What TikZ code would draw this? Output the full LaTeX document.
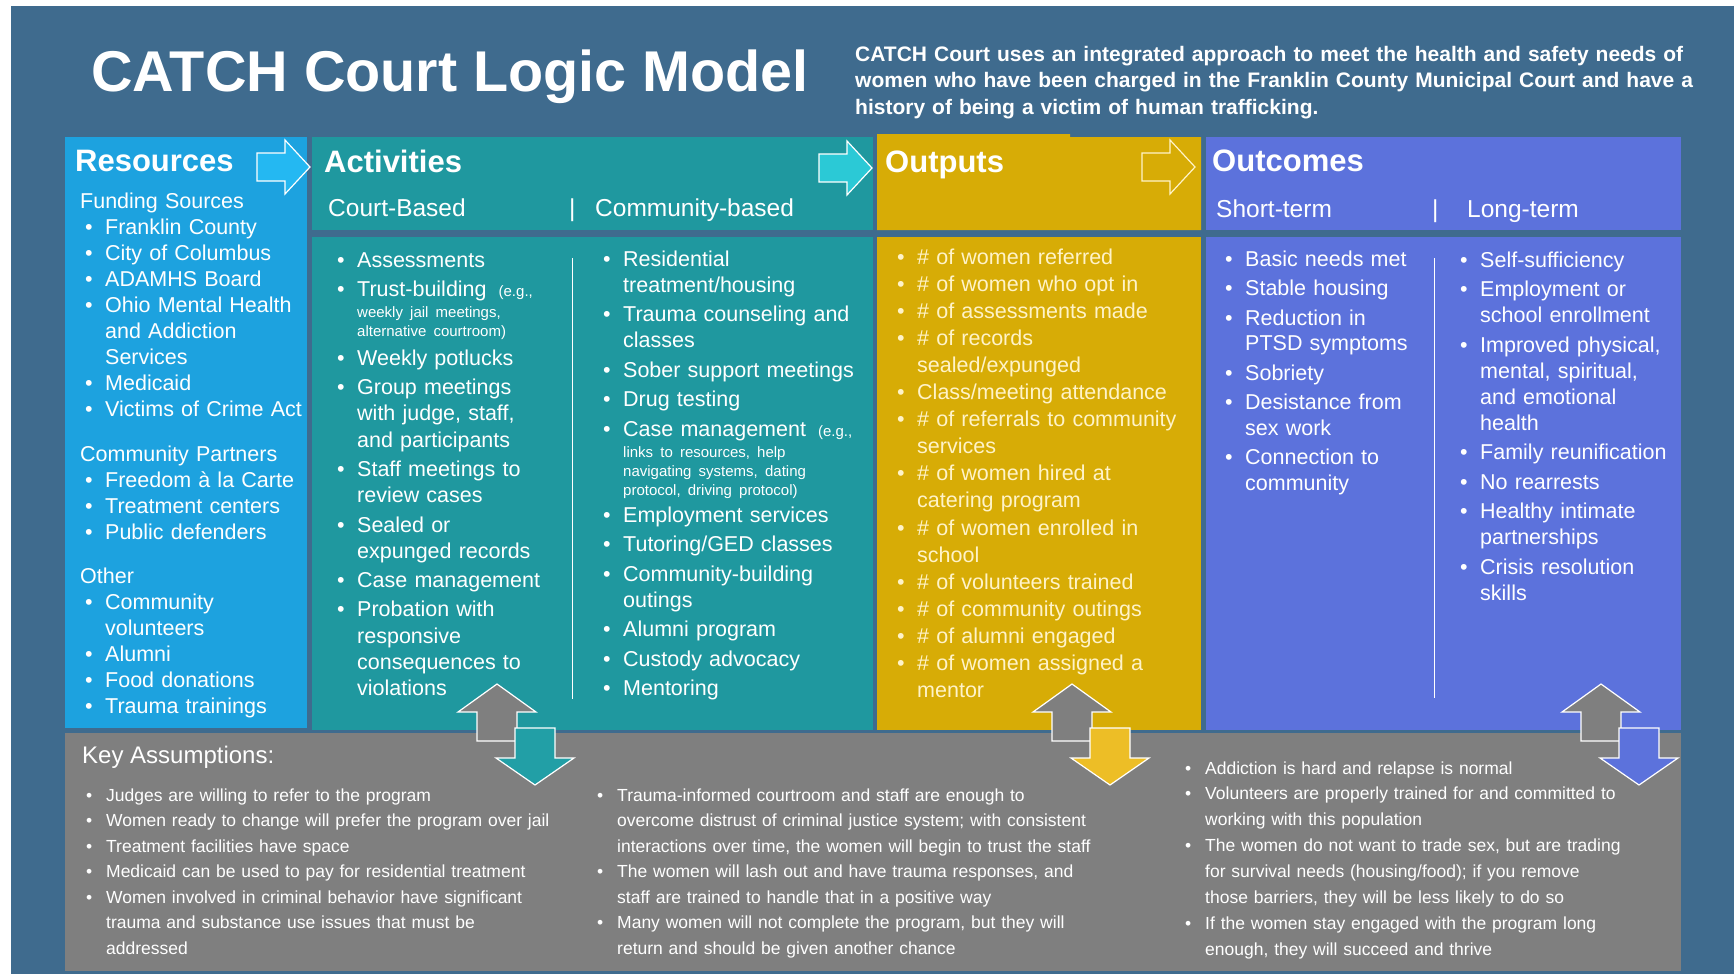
\documentclass[tikz,border=0pt]{standalone}
\usepackage{fontspec}
\setmainfont{Liberation Sans}
\usetikzlibrary{calc}

\definecolor{bgblue}{HTML}{3F6B8E}
\definecolor{resblue}{HTML}{1DA2DF}
\definecolor{actteal}{HTML}{1F989F}
\definecolor{outgold}{HTML}{D7AC06}
\definecolor{outcblue}{HTML}{5C72DC}
\definecolor{keygray}{HTML}{7F7F7F}
\definecolor{paleyel}{HTML}{FFF3C8}
\definecolor{arrblue}{HTML}{24B8F2}
\definecolor{arrcyan}{HTML}{2BC9D6}
\definecolor{downteal}{HTML}{229FA6}
\definecolor{downgold}{HTML}{EDBE26}

\newcommand{\bu}{\makebox[20pt][l]{\textbullet}}
\newcommand{\ct}{\hspace*{20pt}}
\newcommand{\smallnote}[1]{{\fontsize{15}{18}\selectfont #1}}
\newcommand{\rightblock}[3]{\draw[blockarr,#1,shift={(#2,#3)}] (0,-14) -- (28,-14) -- (28,-27) -- (53,0) -- (28,27) -- (28,14) -- (0,14) -- cycle;}
\newcommand{\updown}[2]{%
  \draw[blockarr,fill=keygray,shift={(#1,684)}] (0,0) -- (39,28) -- (20,28) -- (20,57) -- (-20,57) -- (-20,28) -- (-39,28) -- cycle;
  \draw[blockarr,fill=#2,shift={(#1+38,785)}] (0,0) -- (39,-27) -- (20,-27) -- (20,-57) -- (-20,-57) -- (-20,-27) -- (-39,-27) -- cycle;}

\tikzset{
  blockarr/.style={draw=white, line width=1.2pt, line join=miter},
  hdr/.style={anchor=base west, inner sep=0pt, text=white, font=\fontsize{31}{36}\selectfont\bfseries},
  subhdr/.style={anchor=base west, inner sep=0pt, text=white, font=\fontsize{24.5}{28}\selectfont},
  lst/.style={anchor=base west, inner sep=0pt, text=white, align=left, text width=300pt, font=\fontsize{21.5}{26}\selectfont},
  keylst/.style={anchor=base west, inner sep=0pt, text=white, align=left, text width=560pt, font=\fontsize{17.5}{25.5}\selectfont},
}

\begin{document}
\begin{tikzpicture}[x=1pt,y=-1pt]
\useasboundingbox (0,0) rectangle (1734,974);
\fill[white] (0,0) rectangle (1734,974);
\fill[bgblue] (11,6) rectangle (1734,974);

\fill[resblue] (65,137) rectangle (307,728);
\fill[actteal] (312,137) rectangle (873,230);
\fill[actteal] (312,237) rectangle (873,730);
\fill[outgold] (877,134) -- (1070,134) -- (1070,137) -- (1201,137) -- (1201,230) -- (877,230) -- cycle;
\fill[outgold] (877,237) rectangle (1201,730);
\fill[outcblue] (1206,137) rectangle (1681,230);
\fill[outcblue] (1206,237) rectangle (1681,730);
\fill[keygray] (65,733) rectangle (1681,971);

\node[anchor=base west, inner sep=0pt, text=white, font=\fontsize{57.5}{64}\selectfont\bfseries] (title) at (91,91) {CATCH Court Logic Model};
\node[anchor=base west, inner sep=0pt, text=white, align=left, text width=900pt, font=\fontsize{21}{26}\selectfont\bfseries] (intro) at (855,62)
  {CATCH Court uses an integrated approach to meet the health and safety needs of\\
   women who have been charged in the Franklin County Municipal Court and have a\\
   history of being a victim of human trafficking.};

\rightblock{fill=arrblue}{257}{167}
\rightblock{fill=arrcyan}{819}{168}
\rightblock{draw=paleyel}{1142}{167}

\node[hdr] (resources) at (75,171) {Resources};
\node[hdr] (activities) at (324,172) {Activities};
\node[hdr] (outputs) at (885,172) {Outputs};
\node[hdr] (outcomes) at (1212,171) {Outcomes};

\node[subhdr] (court) at (328,216) {Court-Based};
\node[subhdr] (actbar) at (569,216) {|};
\node[subhdr] (commun) at (595,216) {Community-based};
\node[subhdr] (short) at (1216,217) {Short-term};
\node[subhdr] (outcbar) at (1432,217) {|};
\node[subhdr] (long) at (1467,217) {Long-term};

\draw[white, line width=1pt] (572,258) -- (572,699);
\draw[white, line width=1pt] (1434,258) -- (1434,698);

\node[lst] (reslist) at (85,208) {\hspace*{-5pt}Funding Sources\\
  \bu Franklin County\\
  \bu City of Columbus\\
  \bu ADAMHS Board\\
  \bu Ohio Mental Health\\
  \ct and Addiction\\
  \ct Services\\
  \bu Medicaid\\
  \bu Victims of Crime Act\\[19pt]
  \hspace*{-5pt}Community Partners\\
  \bu Freedom à la Carte\\
  \bu Treatment centers\\
  \bu Public defenders\\[18pt]
  \hspace*{-5pt}Other\\
  \bu Community\\
  \ct volunteers\\
  \bu Alumni\\
  \bu Food donations\\
  \bu Trauma trainings};

\node[lst, font=\fontsize{21.5}{26.3}\selectfont] (courtlist) at (337,267) {\bu Assessments\\[3pt]
  \bu Trust-building\hspace{12pt}\smallnote{(e.g.,}\\[-5pt]
  \ct\smallnote{weekly jail meetings,}\\[-7pt]
  \ct\smallnote{alternative courtroom)}\\[2pt]
  \bu Weekly potlucks\\[3pt]
  \bu Group meetings\\
  \ct with judge, staff,\\
  \ct and participants\\[3pt]
  \bu Staff meetings to\\
  \ct review cases\\[3pt]
  \bu Sealed or\\
  \ct expunged records\\[3pt]
  \bu Case management\\[3pt]
  \bu Probation with\\
  \ct responsive\\
  \ct consequences to\\
  \ct violations};

\node[lst] (commlist) at (603,266) {\bu Residential\\
  \ct treatment/housing\\[3.5pt]
  \bu Trauma counseling and\\
  \ct classes\\[3.5pt]
  \bu Sober support meetings\\[3.5pt]
  \bu Drug testing\\[3.5pt]
  \bu Case management\hspace{12pt}\smallnote{(e.g.,}\\[-5pt]
  \ct\smallnote{links to resources, help}\\[-7pt]
  \ct\smallnote{navigating systems, dating}\\[-7pt]
  \ct\smallnote{protocol, driving protocol)}\\[1pt]
  \bu Employment services\\[3.5pt]
  \bu Tutoring/GED classes\\[3.5pt]
  \bu Community-building\\
  \ct outings\\[3.5pt]
  \bu Alumni program\\[3.5pt]
  \bu Custody advocacy\\[3.5pt]
  \bu Mentoring};

\node[lst, text=paleyel, font=\fontsize{21.5}{27.1}\selectfont] (outlist) at (897,264) {\bu \# of women referred\\
  \bu \# of women who opt in\\
  \bu \# of assessments made\\
  \bu \# of records\\
  \ct sealed/expunged\\
  \bu Class/meeting attendance\\
  \bu \# of referrals to community\\
  \ct services\\
  \bu \# of women hired at\\
  \ct catering program\\
  \bu \# of women enrolled in\\
  \ct school\\
  \bu \# of volunteers trained\\
  \bu \# of community outings\\
  \bu \# of alumni engaged\\
  \bu \# of women assigned a\\
  \ct mentor};

\node[lst, font=\fontsize{21.5}{25.5}\selectfont] (shortlist) at (1225,266) {\bu Basic needs met\\[4pt]
  \bu Stable housing\\[4pt]
  \bu Reduction in\\
  \ct PTSD symptoms\\[4pt]
  \bu Sobriety\\[4pt]
  \bu Desistance from\\
  \ct sex work\\[4pt]
  \bu Connection to\\
  \ct community};

\node[lst] (longlist) at (1460,267) {\bu Self-sufficiency\\[3.5pt]
  \bu Employment or\\
  \ct school enrollment\\[3.5pt]
  \bu Improved physical,\\
  \ct mental, spiritual,\\
  \ct and emotional\\
  \ct health\\[3.5pt]
  \bu Family reunification\\[3.5pt]
  \bu No rearrests\\[3.5pt]
  \bu Healthy intimate\\
  \ct partnerships\\[3.5pt]
  \bu Crisis resolution\\
  \ct skills};

\updown{497}{downteal}
\updown{1072}{downgold}
\updown{1601}{outcblue}

\node[anchor=base west, inner sep=0pt, text=white, font=\fontsize{24}{28}\selectfont] (keyhdr) at (82,763) {Key Assumptions:};

\node[keylst] (keyleft) at (86,801) {\bu Judges are willing to refer to the program\\
  \bu Women ready to change will prefer the program over jail\\
  \bu Treatment facilities have space\\
  \bu Medicaid can be used to pay for residential treatment\\
  \bu Women involved in criminal behavior have significant\\
  \ct trauma and substance use issues that must be\\
  \ct addressed};

\node[keylst] (keymid) at (597,801) {\bu Trauma-informed courtroom and staff are enough to\\
  \ct overcome distrust of criminal justice system; with consistent\\
  \ct interactions over time, the women will begin to trust the staff\\
  \bu The women will lash out and have trauma responses, and\\
  \ct staff are trained to handle that in a positive way\\
  \bu Many women will not complete the program, but they will\\
  \ct return and should be given another chance};

\node[keylst, font=\fontsize{17.5}{25.9}\selectfont] (keyright) at (1185,774) {\bu Addiction is hard and relapse is normal\\
  \bu Volunteers are properly trained for and committed to\\
  \ct working with this population\\
  \bu The women do not want to trade sex, but are trading\\
  \ct for survival needs (housing/food); if you remove\\
  \ct those barriers, they will be less likely to do so\\
  \bu If the women stay engaged with the program long\\
  \ct enough, they will succeed and thrive};
\end{tikzpicture}
\end{document}
